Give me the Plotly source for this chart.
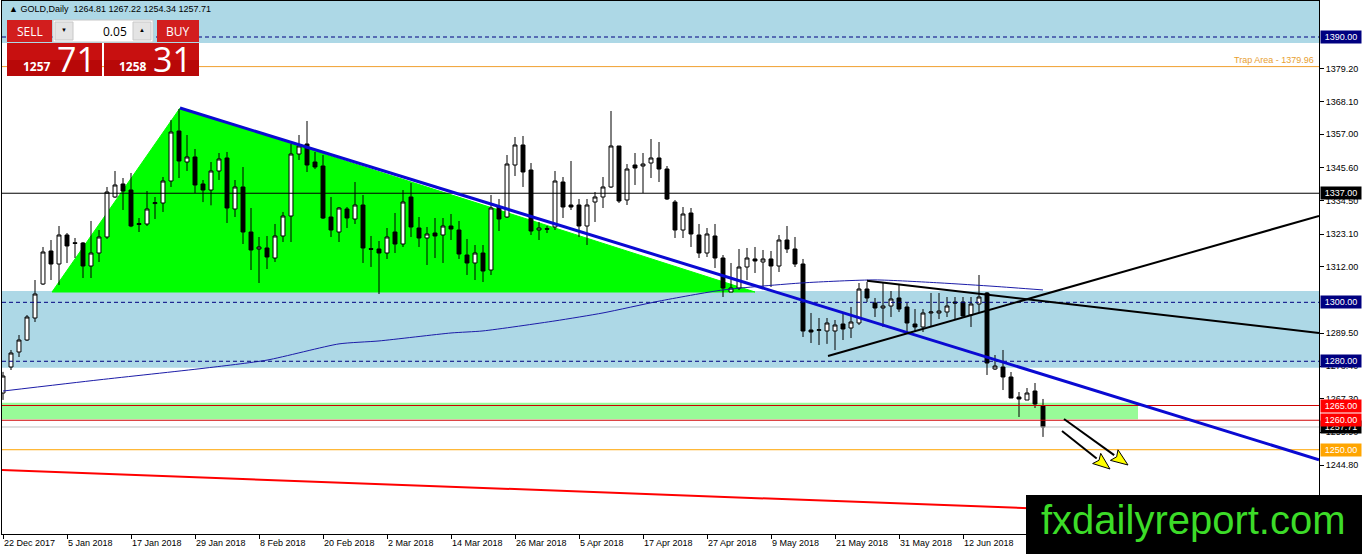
import plotly.graph_objects as go

# ---------------- data ----------------
tick_labels = ["22 Dec 2017", "5 Jan 2018", "17 Jan 2018", "29 Jan 2018", "8 Feb 2018",
               "20 Feb 2018", "2 Mar 2018", "14 Mar 2018", "26 Mar 2018", "5 Apr 2018",
               "17 Apr 2018", "27 Apr 2018", "9 May 2018", "21 May 2018", "31 May 2018",
               "12 Jun 2018"]
bars_per_label = 8

opens = [1269.24, 1278.06, 1283.15, 1287.22, 1294.68, 1306.21, 1317.41, 1313.00, 1322.84, 1320.20,
         1320.12, 1312.32, 1316.73, 1322.16, 1335.73, 1340.14, 1338.10, 1326.40, 1326.57, 1333.50,
         1333.69, 1341.15, 1358.11, 1347.60, 1349.30, 1340.14, 1338.10, 1344.55, 1348.96, 1331.66,
         1339.12, 1323.85, 1318.09, 1318.43, 1315.03, 1322.50, 1329.28, 1350.31, 1353.70, 1347.60,
         1346.24, 1328.94, 1323.85, 1331.66, 1328.26, 1333.01, 1318.20, 1318.09, 1316.73, 1323.85,
         1319.78, 1335.73, 1325.21, 1321.82, 1323.51, 1322.84, 1325.89, 1324.53, 1316.05, 1313.34,
         1316.73, 1310.96, 1332.33, 1328.94, 1346.58, 1353.37, 1344.88, 1324.53, 1325.00, 1325.55,
         1340.81, 1333.01, 1333.01, 1325.89, 1334.03, 1335.73, 1339.12, 1353.03, 1334.71, 1346.58,
         1346.24, 1347.26, 1348.96, 1345.22, 1334.03, 1324.53, 1330.30, 1322.84, 1316.73, 1322.50,
         1315.03, 1303.50, 1304.86, 1311.98, 1314.70, 1313.68, 1314.70, 1312.32, 1321.14, 1318.09,
         1313.00, 1290.61, 1290.50, 1290.27, 1290.27, 1292.65, 1291.29, 1292.99, 1304.52, 1299.77,
         1298.07, 1298.75, 1301.47, 1298.41, 1292.65, 1291.63, 1296.38, 1296.38, 1296.72, 1300.11,
         1300.11, 1295.70, 1299.43, 1303.16, 1277.38, 1278.06, 1274.67, 1267.88, 1266.86, 1269.92,
         1264.81]
highs = [1276.40, 1283.83, 1288.91, 1295.70, 1307.57, 1318.77, 1321.14, 1325.89, 1323.51, 1321.82,
         1320.46, 1327.59, 1324.53, 1339.12, 1344.55, 1342.17, 1343.87, 1328.60, 1337.76, 1335.73,
         1342.51, 1361.85, 1365.58, 1356.76, 1352.01, 1341.49, 1347.60, 1350.65, 1351.00, 1341.49,
         1345.90, 1331.99, 1322.16, 1322.50, 1326.57, 1330.64, 1353.70, 1356.76, 1361.51, 1351.00,
         1349.97, 1335.73, 1332.33, 1332.33, 1340.81, 1336.40, 1322.50, 1320.80, 1325.21, 1330.30,
         1338.10, 1340.47, 1328.94, 1325.55, 1328.60, 1328.60, 1329.96, 1327.59, 1321.48, 1319.44,
         1319.44, 1336.40, 1335.05, 1349.97, 1356.08, 1356.42, 1347.26, 1327.25, 1325.90, 1344.55,
         1342.51, 1347.94, 1335.05, 1335.05, 1337.42, 1342.51, 1364.90, 1353.03, 1346.90, 1350.65,
         1350.65, 1355.40, 1354.38, 1346.24, 1334.71, 1332.33, 1331.99, 1326.57, 1325.21, 1326.57,
         1316.05, 1313.34, 1318.09, 1318.43, 1318.77, 1317.75, 1317.41, 1322.84, 1325.89, 1322.16,
         1314.70, 1296.38, 1294.68, 1294.68, 1294.00, 1296.38, 1298.41, 1306.55, 1306.89, 1301.47,
         1306.89, 1303.84, 1305.88, 1299.77, 1297.73, 1297.73, 1303.16, 1303.16, 1301.80, 1301.80,
         1301.80, 1301.80, 1309.27, 1303.50, 1282.13, 1283.83, 1276.36, 1269.58, 1270.93, 1272.63,
         1267.22]
lows = [1266.90, 1277.04, 1281.45, 1286.90, 1293.32, 1305.88, 1307.57, 1305.88, 1313.34, 1315.03,
        1308.25, 1308.25, 1313.68, 1321.48, 1335.39, 1331.32, 1325.50, 1323.85, 1325.89, 1328.26,
        1330.64, 1339.12, 1342.17, 1344.55, 1337.08, 1334.00, 1332.90, 1341.50, 1326.91, 1328.94,
        1319.78, 1310.96, 1306.55, 1311.30, 1313.68, 1320.46, 1320.46, 1348.28, 1344.21, 1345.20,
        1328.26, 1322.16, 1320.46, 1325.21, 1326.57, 1313.34, 1312.00, 1302.82, 1314.70, 1316.73,
        1318.77, 1322.16, 1318.77, 1312.66, 1315.03, 1313.34, 1321.14, 1314.70, 1309.27, 1307.57,
        1306.89, 1309.27, 1324.19, 1328.60, 1342.85, 1339.12, 1322.84, 1321.14, 1323.50, 1324.53,
        1328.60, 1331.32, 1322.16, 1319.44, 1327.25, 1331.99, 1338.78, 1333.69, 1333.01, 1339.80,
        1337.08, 1342.17, 1340.81, 1334.71, 1321.82, 1321.82, 1318.77, 1315.03, 1315.37, 1311.64,
        1301.80, 1303.50, 1304.18, 1307.57, 1309.95, 1305.20, 1305.20, 1310.29, 1316.73, 1311.98,
        1288.24, 1286.20, 1285.52, 1285.90, 1283.80, 1287.22, 1287.90, 1292.31, 1300.11, 1295.02,
        1291.63, 1295.02, 1296.72, 1289.93, 1289.93, 1289.93, 1291.63, 1294.34, 1295.02, 1294.34,
        1294.68, 1291.63, 1296.72, 1275.35, 1277.04, 1270.25, 1267.54, 1261.10, 1266.86, 1264.15,
        1254.34]
closes = [1275.00, 1282.81, 1287.22, 1295.02, 1302.82, 1317.07, 1313.00, 1322.84, 1319.11, 1320.00,
          1312.32, 1316.73, 1322.16, 1337.42, 1339.80, 1337.76, 1325.89, 1326.70, 1331.66, 1333.80,
          1341.15, 1357.77, 1347.94, 1349.30, 1339.80, 1338.10, 1344.55, 1348.62, 1331.99, 1339.12,
          1323.85, 1317.75, 1318.77, 1315.37, 1322.50, 1329.28, 1350.31, 1353.03, 1346.58, 1345.90,
          1328.60, 1324.53, 1331.99, 1328.60, 1333.01, 1318.43, 1318.00, 1316.73, 1322.16, 1319.78,
          1334.03, 1325.55, 1321.82, 1323.18, 1322.50, 1325.89, 1324.87, 1316.39, 1313.34, 1316.73,
          1310.62, 1331.99, 1328.26, 1346.92, 1353.37, 1344.21, 1324.19, 1325.21, 1324.80, 1341.15,
          1332.33, 1332.33, 1325.89, 1333.01, 1335.73, 1339.12, 1353.03, 1334.37, 1345.22, 1345.56,
          1346.92, 1348.96, 1345.22, 1335.05, 1324.53, 1329.96, 1323.18, 1316.73, 1323.18, 1315.03,
          1304.86, 1304.86, 1311.98, 1315.03, 1314.02, 1314.70, 1312.32, 1321.14, 1318.09, 1313.00,
          1290.27, 1289.93, 1290.70, 1292.99, 1292.31, 1290.95, 1293.32, 1304.52, 1301.47, 1298.07,
          1298.75, 1301.13, 1297.73, 1292.99, 1291.63, 1296.38, 1296.72, 1297.06, 1298.75, 1299.77,
          1295.36, 1299.43, 1301.80, 1279.42, 1278.40, 1274.67, 1267.54, 1267.20, 1269.24, 1265.51,
          1257.71]

ma_bars = [0, 12, 25, 33, 42, 47, 56, 60, 69, 75, 82, 90, 100, 109, 117, 124, 130]
ma_values = [1269.9, 1273.7, 1277.6, 1280.4, 1285.9, 1286.9, 1289.6, 1290.3, 1293.7, 1296.4,
             1300.4, 1304.2, 1306.6, 1307.6, 1306.6, 1305.4, 1304.2]

price_ticks = [1233.40, 1244.80, 1255.90, 1267.30, 1278.40, 1289.50, 1312.00, 1323.10,
               1334.50, 1345.60, 1357.00, 1368.10, 1379.20]

# ---------------- geometry helpers (decorations only) ----------------
W, H = 1362, 554
ML, MR, MT, MB = 2, 43, 1, 20
PW, PH = W - ML - MR, H - MT - MB


def bar_at(px):          # screen x -> bar index
    return (px - 3) / 8.0


def price_at(py):        # screen y -> price
    return 1390.0 - (py - 37) / 2.948


def paper_x(px):
    return (px - ML) / PW


def paper_y(py):
    return (H - MB - py) / PH


x_range = [bar_at(ML), bar_at(W - MR)]
y_range = [price_at(H - MB), price_at(MT)]

bars = list(range(len(opens)))

fig = go.Figure()

fig.add_trace(go.Scatter(x=ma_bars, y=ma_values, mode="lines",
                         line=dict(color="#1C1CA8", width=1, shape="spline", smoothing=0.6),
                         hoverinfo="skip", showlegend=False))

fig.add_trace(go.Candlestick(
    x=bars, open=opens, high=highs, low=lows, close=closes,
    increasing=dict(line=dict(color="black", width=1), fillcolor="white"),
    decreasing=dict(line=dict(color="black", width=1), fillcolor="black"),
    whiskerwidth=0, showlegend=False))

shapes = []
LB = "#ADD8E6"
# bands
shapes.append(dict(type="rect", xref="paper", yref="y", x0=0, x1=1, y0=1388.0, y1=y_range[1],
                   fillcolor=LB, line_width=0, layer="below"))
shapes.append(dict(type="rect", xref="paper", yref="y", x0=0, x1=1, y0=1277.8, y1=1303.8,
                   fillcolor=LB, line_width=0, layer="below"))
shapes.append(dict(type="rect", xref="x", yref="y", x0=x_range[0], x1=bar_at(1138), y0=1260.3, y1=1265.9,
                   fillcolor="#98FB98", line_width=0, layer="below"))
# green triangle
tri = [(bar_at(52), 1303.5), (bar_at(180), 1365.9), (bar_at(755), 1303.5)]
shapes.append(dict(type="path", xref="x", yref="y",
                   path="M {} {} L {} {} L {} {} Z".format(*tri[0], *tri[1], *tri[2]),
                   fillcolor="#00FF00", line=dict(color="#00FF00", width=1), layer="below"))


def hline(p, color, width=1, dash=None, layer="above"):
    d = dict(type="line", xref="paper", yref="y", x0=0, x1=1, y0=p, y1=p,
             line=dict(color=color, width=width), layer=layer)
    if dash:
        d["line"]["dash"] = dash
    shapes.append(d)


hline(1390.0, "#000080", 1, "4px,3px")
hline(1379.96, "#F0A030", 1)
hline(1337.0, "black", 1)
hline(1300.0, "#000080", 1, "4px,3px")
hline(1280.0, "#000080", 1, "4px,3px")
hline(1265.0, "#D00000", 1)
hline(1260.0, "#D00000", 1)
hline(1257.71, "#C0C0C0", 1)
hline(1250.0, "#FFA500", 1)

# trend lines
shapes.append(dict(type="line", xref="x", yref="y", x0=bar_at(180), y0=1365.9, x1=x_range[1], y1=1246.6,
                   line=dict(color="#0A0AD2", width=3)))
shapes.append(dict(type="line", xref="x", yref="y", x0=bar_at(828), y0=1281.8, x1=x_range[1], y1=1329.3,
                   line=dict(color="black", width=2)))
shapes.append(dict(type="line", xref="x", yref="y", x0=bar_at(867), y0=1307.3, x1=x_range[1], y1=1289.6,
                   line=dict(color="black", width=2)))
shapes.append(dict(type="line", xref="x", yref="y", x0=x_range[0], y0=1243.1, x1=x_range[1], y1=1226.5,
                   line=dict(color="#FF0000", width=2)))


# arrows (black shaft + yellow head)
def arrow(x0, y0, x1, y1):
    dx, dy = x1 - x0, y1 - y0
    L = (dx * dx + dy * dy) ** 0.5
    ux, uy = dx / L, dy / L
    nx, ny = -uy, ux
    bx, by = x1 - 17 * ux, y1 - 17 * uy
    shapes.append(dict(type="line", xref="x", yref="y", x0=bar_at(x0), y0=price_at(y0),
                       x1=bar_at(bx), y1=price_at(by), line=dict(color="black", width=2)))
    pts = [(x1, y1), (bx + 6.5 * nx, by + 6.5 * ny), (bx + 3 * ux, by + 3 * uy), (bx - 6.5 * nx, by - 6.5 * ny)]
    path = "M " + " L ".join("{} {}".format(bar_at(a), price_at(b)) for a, b in pts) + " Z"
    shapes.append(dict(type="path", xref="x", yref="y", path=path, fillcolor="#FFFF00",
                       line=dict(color="black", width=1)))


arrow(1064, 419, 1128, 465)
arrow(1062, 431, 1110, 469)

# one-click trading panel
def rect_px(x0, y0, x1, y1, fill, line="rgba(0,0,0,0)", lw=0):
    shapes.append(dict(type="rect", xref="paper", yref="paper", x0=paper_x(x0), x1=paper_x(x1),
                       y0=paper_y(y1), y1=paper_y(y0), fillcolor=fill, line=dict(color=line, width=lw),
                       layer="above"))


rect_px(7, 20, 52, 42, "#D21E1E")
rect_px(157, 20, 199, 42, "#D21E1E")
rect_px(53, 20, 153, 42, "white", "#C8C8C8", 1)
rect_px(55, 22, 73, 40, "#E4E4E4", "#C8C8C8", 1)
rect_px(133, 22, 151, 40, "#E4E4E4", "#C8C8C8", 1)
rect_px(7, 43, 102, 76, "#C81010")
rect_px(104, 43, 199, 76, "#C81010")
rect_px(7, 60, 102, 76, "#B80808")
rect_px(104, 60, 199, 76, "#B80808")

# logo box
rect_px(1026, 495, W + 2, H + 2, "black")

annotations = []


def text_px(x, y, txt, size, color, anchor="center", family="Liberation Sans", bg=None):
    a = dict(xref="paper", yref="paper", x=paper_x(x), y=paper_y(y), text=txt, showarrow=False,
             xanchor=anchor, yanchor="middle", font=dict(size=size, color=color, family=family))
    if bg:
        a["bgcolor"] = bg
    annotations.append(a)


text_px(7, 9, "▲ GOLD,Daily  1264.81 1267.22 1254.34 1257.71", 9, "black", "left", "Liberation Sans")
text_px(29.5, 31, "SELL", 12, "white", family="Open Sans")
text_px(178, 31, "BUY", 12, "white", family="Open Sans")
text_px(64, 30, "▼", 6, "black")
text_px(142, 30, "▲", 6, "black")
text_px(129, 31, "0.05", 12, "black", "right", family="Open Sans")
text_px(53, 66, "<b>1257</b>", 12, "white", "right", family="Open Sans")
text_px(55, 59, "71", 34, "white", "left", family="Open Sans")
text_px(149, 66, "<b>1258</b>", 12, "white", "right", family="Open Sans")
text_px(151, 59, "31", 34, "white", "left", family="Open Sans")
text_px(1193, 520, "fxdailyreport.com", 40, "#3CDC28", family="Liberation Sans")
text_px(1316, 60, "Trap Area - 1379.96", 9, "#E8A030", "right")

# price boxes on the axis
box_prices = [1390.00, 1337.00, 1300.00, 1280.00, 1265.00, 1257.71, 1260.00, 1250.00]
box_colors = ["#000080", "#000000", "#000080", "#000080", "#FF0000", "#000000", "#FF0000", "#FFA500"]
for p, c in zip(box_prices, box_colors):
    annotations.append(dict(xref="paper", yref="y", x=1, xshift=1, y=p, xanchor="left", yanchor="middle",
                            text="{:.2f}".format(p), showarrow=False, bgcolor=c, borderpad=1,
                            width=38, align="center",
                            font=dict(size=9, color="white", family="Liberation Sans")))

fig.update_layout(
    width=W, height=H, margin=dict(l=ML, r=MR, t=MT, b=MB),
    paper_bgcolor="white", plot_bgcolor="white",
    shapes=shapes, annotations=annotations, showlegend=False,
    boxgap=0.3,
    xaxis=dict(range=x_range, rangeslider=dict(visible=False), showgrid=False, zeroline=False,
               showline=True, mirror=True, linecolor="black", linewidth=1,
               tickmode="array", tickvals=[bars_per_label * k for k in range(len(tick_labels))],
               ticktext=tick_labels, ticks="outside", ticklen=4, tickcolor="black",
               ticklabelposition="outside right",
               tickfont=dict(family="Liberation Sans", size=9, color="black")),
    yaxis=dict(range=y_range, side="right", showgrid=False, zeroline=False,
               showline=True, mirror=True, linecolor="black", linewidth=1,
               tickmode="array", tickvals=price_ticks, ticktext=["{:.2f}".format(v) for v in price_ticks],
               ticks="outside", ticklen=4, tickcolor="black",
               tickfont=dict(family="Liberation Sans", size=9, color="black")),
)

fig.write_html("out.html", config={"displayModeBar": False},
               post_script="document.body.style.margin='0';document.body.style.overflow='hidden';")
